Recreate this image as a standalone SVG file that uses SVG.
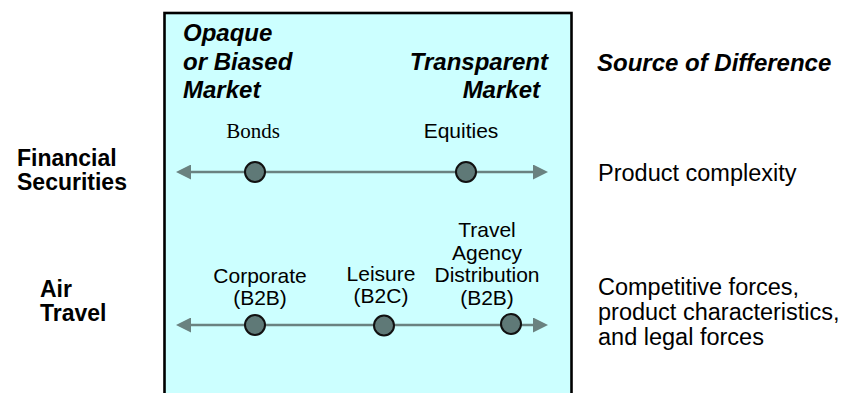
<svg xmlns="http://www.w3.org/2000/svg" width="849" height="393" viewBox="0 0 849 393">
<style>
.hi{font-family:"Liberation Sans",Arial,sans-serif;font-weight:bold;font-style:italic;font-size:24px;fill:#000}
.hb{font-family:"Liberation Sans",Arial,sans-serif;font-weight:bold;font-size:23px;fill:#000}
.t{font-family:"Liberation Sans",Arial,sans-serif;font-size:21px;fill:#000}
.tr{font-family:"Liberation Sans",Arial,sans-serif;font-size:23.5px;fill:#000}
.ts{font-family:"Liberation Serif","Times New Roman",serif;font-size:21px;fill:#000}
.ax{stroke:#6a8280;stroke-width:2.5;fill:none}
.dot{fill:#5f7977;stroke:#111;stroke-width:2}
.c{text-anchor:middle}
</style>
<defs>
<marker id="ah" viewBox="0 0 10 10" refX="7" refY="5" markerWidth="6" markerHeight="6" markerUnits="strokeWidth" orient="auto-start-reverse">
<path d="M0,0 L10,5 L0,10 z" fill="#6a8280"/>
</marker>
</defs>
<g id="panel">
<rect x="164.5" y="13" width="407" height="400" fill="#ccffff" stroke="#000" stroke-width="2.6"/>
</g>
<g id="headers">
<text class="hi" x="183" y="41">Opaque</text>
<text class="hi" x="183" y="70">or Biased</text>
<text class="hi" x="183" y="98">Market</text>
<text class="hi" x="548" y="70" text-anchor="end">Transparent</text>
<text class="hi" x="540" y="98" text-anchor="end">Market</text>
<text class="hi" x="597" y="71">Source of Difference</text>
</g>
<g id="connectors">
<line class="ax" x1="180.5" y1="172" x2="543.5" y2="172" marker-start="url(#ah)" marker-end="url(#ah)"/>
<line class="ax" x1="180.5" y1="325" x2="543.5" y2="325" marker-start="url(#ah)" marker-end="url(#ah)"/>
</g>
<g id="financial">
<text class="hb" x="17" y="166">Financial</text>
<text class="hb" x="17" y="190">Securities</text>
<text class="tr" x="598" y="181">Product complexity</text>
</g>
<g id="bonds">
<text class="ts c" x="253" y="138">Bonds</text>
<circle class="dot" cx="255" cy="172" r="10"/>
</g>
<g id="equities">
<text class="t c" x="461" y="138">Equities</text>
<circle class="dot" cx="466" cy="172" r="10"/>
</g>
<g id="air">
<text class="hb" x="40" y="297">Air</text>
<text class="hb" x="40" y="321">Travel</text>
<text class="tr" x="598" y="295">Competitive forces,</text>
<text class="tr" x="598" y="320">product characteristics,</text>
<text class="tr" x="598" y="345">and legal forces</text>
</g>
<g id="corporate">
<text class="t c" x="260" y="283">Corporate</text>
<text class="t c" x="260" y="305">(B2B)</text>
<circle class="dot" cx="255" cy="325" r="10"/>
</g>
<g id="leisure">
<text class="t c" x="381" y="281">Leisure</text>
<text class="t c" x="381" y="303">(B2C)</text>
<circle class="dot" cx="384" cy="325.5" r="10"/>
</g>
<g id="agency">
<text class="t c" x="487" y="237">Travel</text>
<text class="t c" x="487" y="259.5">Agency</text>
<text class="t c" x="487" y="282">Distribution</text>
<text class="t c" x="487" y="304.5">(B2B)</text>
<circle class="dot" cx="511" cy="324" r="10"/>
</g>
</svg>
